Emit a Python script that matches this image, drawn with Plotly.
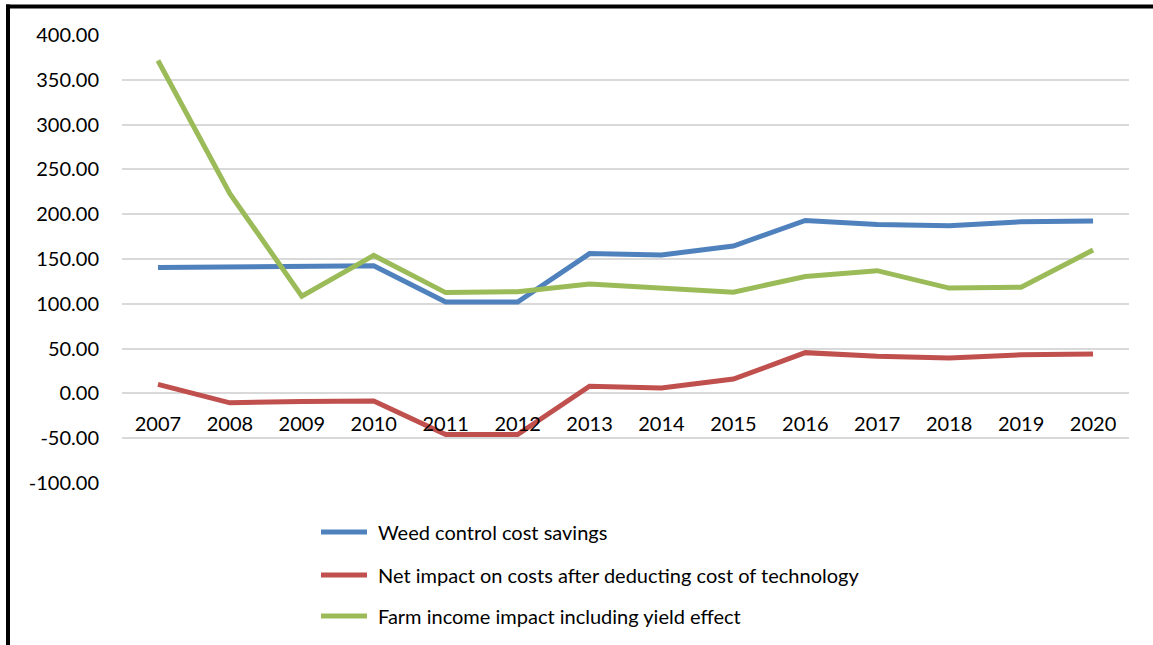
import plotly.graph_objects as go

# Annual values per year (US $/ha)
years = ["2007", "2008", "2009", "2010", "2011", "2012", "2013",
         "2014", "2015", "2016", "2017", "2018", "2019", "2020"]
weed_control_savings = [140.5, 141.5, 142.5, 142.5, 102.0, 102.0, 156.0,
                        154.5, 164.5, 193.0, 188.5, 187.0, 191.5, 192.5]
net_cost_impact = [10.0, -10.5, -9.0, -8.5, -46.0, -46.0, 8.0,
                   6.0, 16.0, 45.5, 41.5, 39.5, 43.0, 44.0]
farm_income_impact = [371.5, 223.0, 108.5, 154.0, 112.5, 113.5, 122.0,
                      117.5, 113.0, 130.5, 137.0, 117.5, 118.5, 160.0]
y_ticks = [-100, -50, 0, 50, 100, 150, 200, 250, 300, 350, 400]

series_names = [
    "Weed control cost savings",
    "Net impact on costs after deducting cost of technology",
    "Farm income impact including yield effect",
]
series_values = [weed_control_savings, net_cost_impact, farm_income_impact]
series_colors = ["#4F81BD", "#C0504D", "#9BBB59"]

FONT = "Lato, Carlito, Calibri, sans-serif"
W, H = 1153, 645
ML, MR, MT, MB = 122, 24, 35, 162
y_min, y_max = y_ticks[0], y_ticks[-1]

plot_w = W - ML - MR
plot_h = H - MT - MB


def px_x(px):
    return (px - ML) / plot_w


def px_y(py):
    return (H - MB - py) / plot_h


fig = go.Figure()
for name, vals, color in zip(series_names, series_values, series_colors):
    fig.add_trace(go.Scatter(
        x=years, y=vals, name=name, mode="lines",
        line=dict(color=color, width=5),
        showlegend=False,
    ))

# Legend drawn below the plot: a line sample and a label per series
legend_rows = [532, 575, 616]
shapes = []
annotations = []
for name, color, row in zip(series_names, series_colors, legend_rows):
    shapes.append(dict(type="line", xref="paper", yref="paper",
                       x0=px_x(321), x1=px_x(367), y0=px_y(row), y1=px_y(row),
                       line=dict(color=color, width=5)))
    annotations.append(dict(xref="paper", yref="paper",
                            x=px_x(376), y=px_y(row),
                            xanchor="left", yanchor="middle",
                            text=name, showarrow=False,
                            font=dict(size=20, color="black")))

# outer frame: top and left edges
shapes += [
    dict(type="line", xref="paper", yref="paper",
         x0=px_x(6), x1=px_x(W + 5), y0=px_y(6.5), y1=px_y(6.5),
         line=dict(color="black", width=4)),
    dict(type="line", xref="paper", yref="paper",
         x0=px_x(8), x1=px_x(8), y0=px_y(4.5), y1=px_y(H + 5),
         line=dict(color="black", width=4)),
]

# Category axis crosses the value axis at zero
zero_pos = (0 - y_min) / (y_max - y_min)

fig.update_layout(
    width=W, height=H,
    margin=dict(l=ML, r=MR, t=MT, b=MB, autoexpand=False),
    paper_bgcolor="white", plot_bgcolor="white",
    font=dict(family=FONT, size=20, color="black"),
    showlegend=False,
    xaxis=dict(
        type="category", range=[-0.5, 13.5],
        anchor="free", position=zero_pos,
        showgrid=False, showline=False, ticks="",
        ticklabelstandoff=17,
        tickfont=dict(size=20),
        fixedrange=True,
    ),
    yaxis=dict(
        range=[y_min, y_max],
        tickmode="array", tickvals=y_ticks,
        ticktext=[f"{v:.2f}" for v in y_ticks],
        showgrid=True, gridcolor="#D9D9D9", gridwidth=1.5,
        zeroline=True, zerolinecolor="#D9D9D9", zerolinewidth=1.5,
        showline=False, ticks="", ticklabelstandoff=22,
        tickfont=dict(size=20),
        fixedrange=True,
    ),
    shapes=shapes,
    annotations=annotations,
)

fig.write_html("out.html")
